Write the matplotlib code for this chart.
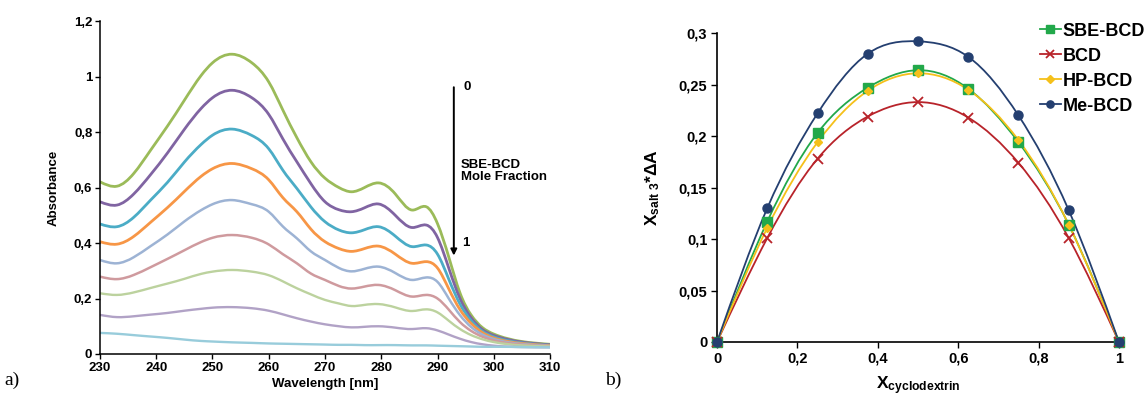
import numpy as np
import matplotlib
matplotlib.use("Agg")
import matplotlib.pyplot as plt
from matplotlib.path import Path
from matplotlib.patches import PathPatch
from matplotlib.lines import Line2D

plt.rcParams['font.family'] = ['Liberation Sans', 'DejaVu Sans']
plt.rcParams['font.weight'] = 'bold'
plt.rcParams['mathtext.fontset'] = 'custom'
plt.rcParams['mathtext.rm'] = 'Liberation Sans:bold'
plt.rcParams['mathtext.bf'] = 'Liberation Sans:bold'
plt.rcParams['mathtext.it'] = 'Liberation Sans:bold'

# ---- panel a: UV spectra (SBE-BCD mole fraction 0 -> 1, top to bottom) ----
wavelength = [230, 233, 236, 239, 242, 245, 248, 250, 253.5, 257, 260, 262.5, 265, 267.5,
              270, 272.5, 274.7, 277, 279.5, 282.5, 285.5, 288,
              290, 292, 294, 296, 298, 300, 305, 310]
spectra = [
    [0.621, 0.605, 0.651, 0.735, 0.822, 0.915, 1.005, 1.050, 1.081, 1.050, 0.981, 0.880, 0.780, 0.693,
     0.634, 0.600, 0.585, 0.600, 0.617, 0.577, 0.519, 0.531,
     0.470, 0.350, 0.220, 0.140, 0.095, 0.072, 0.045, 0.035],
    [0.549, 0.537, 0.577, 0.647, 0.725, 0.810, 0.886, 0.924, 0.951, 0.924, 0.864, 0.776, 0.693, 0.614,
     0.549, 0.520, 0.513, 0.527, 0.541, 0.500, 0.456, 0.465,
     0.420, 0.310, 0.200, 0.130, 0.088, 0.067, 0.043, 0.033],
    [0.469, 0.459, 0.493, 0.555, 0.619, 0.692, 0.756, 0.789, 0.811, 0.788, 0.740, 0.663, 0.597, 0.530,
     0.477, 0.447, 0.437, 0.448, 0.459, 0.425, 0.387, 0.393,
     0.360, 0.270, 0.180, 0.120, 0.082, 0.062, 0.040, 0.031],
    [0.405, 0.396, 0.424, 0.475, 0.528, 0.586, 0.641, 0.668, 0.687, 0.668, 0.628, 0.564, 0.513, 0.450,
     0.405, 0.380, 0.370, 0.380, 0.389, 0.360, 0.327, 0.333,
     0.310, 0.235, 0.160, 0.110, 0.077, 0.058, 0.038, 0.030],
    [0.339, 0.327, 0.349, 0.389, 0.431, 0.478, 0.519, 0.540, 0.555, 0.540, 0.513, 0.460, 0.417, 0.370,
     0.339, 0.310, 0.298, 0.307, 0.315, 0.292, 0.267, 0.276,
     0.260, 0.200, 0.140, 0.097, 0.070, 0.054, 0.036, 0.029],
    [0.279, 0.270, 0.285, 0.313, 0.343, 0.374, 0.404, 0.419, 0.429, 0.419, 0.395, 0.360, 0.327, 0.290,
     0.267, 0.245, 0.236, 0.243, 0.249, 0.230, 0.207, 0.213,
     0.200, 0.160, 0.115, 0.083, 0.062, 0.049, 0.034, 0.028],
    [0.219, 0.213, 0.222, 0.238, 0.254, 0.271, 0.289, 0.297, 0.303, 0.297, 0.284, 0.262, 0.237, 0.215,
     0.195, 0.182, 0.173, 0.177, 0.180, 0.168, 0.155, 0.161,
     0.150, 0.120, 0.090, 0.068, 0.053, 0.043, 0.031, 0.027],
    [0.141, 0.133, 0.136, 0.142, 0.148, 0.156, 0.163, 0.167, 0.169, 0.165, 0.156, 0.143, 0.129, 0.117,
     0.107, 0.100, 0.096, 0.098, 0.100, 0.095, 0.090, 0.093,
     0.085, 0.070, 0.055, 0.043, 0.035, 0.030, 0.025, 0.024],
    [0.076, 0.073, 0.068, 0.063, 0.058, 0.052, 0.047, 0.045, 0.042, 0.040, 0.038, 0.037, 0.036, 0.035,
     0.034, 0.033, 0.033, 0.032, 0.032, 0.032, 0.031, 0.031,
     0.030, 0.029, 0.028, 0.027, 0.026, 0.026, 0.025, 0.024],
]
spectra_colors = ['#9BBB59', '#8064A2', '#4BACC6', '#F79646', '#9DB3D4',
                  '#CF9A9E', '#BCD29E', '#B1A2C6', '#98CCDB']
spectra_widths = [2.0, 2.0, 2.0, 2.0, 1.8, 1.8, 1.7, 1.7, 1.7]

# ---- panel b: Job plot ----
x_frac = [0, 0.125, 0.25, 0.375, 0.5, 0.625, 0.75, 0.875, 1]
job_series = {
    'SBE-BCD': [0, 0.117, 0.203, 0.247, 0.264, 0.246, 0.194, 0.114, 0],
    'BCD': [0, 0.101, 0.178, 0.219, 0.233, 0.218, 0.174, 0.101, 0],
    'HP-BCD': [0, 0.111, 0.194, 0.244, 0.261, 0.245, 0.196, 0.114, 0],
    'Me-BCD': [0, 0.130, 0.222, 0.280, 0.292, 0.277, 0.220, 0.128, 0],
}
job_style = {
    'SBE-BCD': dict(color='#22A84A', marker='s', ms=6.5),
    'BCD': dict(color='#B8232A', marker='x', ms=7, mew=1.3),
    'HP-BCD': dict(color='#F5C01A', marker='D', ms=4.5),
    'Me-BCD': dict(color='#243F70', marker='o', ms=6.5),
}


def smooth_path(xs, ys):
    # smoothed line: natural cubic spline through the points, drawn as Bezier segments
    x = np.asarray(xs, float)
    y = np.asarray(ys, float)
    n = len(x)
    h = np.diff(x)
    A = np.zeros((n, n))
    b = np.zeros(n)
    A[0, 0] = A[-1, -1] = 1.0
    for i in range(1, n - 1):
        A[i, i - 1] = h[i - 1]
        A[i, i] = 2 * (h[i - 1] + h[i])
        A[i, i + 1] = h[i]
        b[i] = 6 * ((y[i + 1] - y[i]) / h[i] - (y[i] - y[i - 1]) / h[i - 1])
    M = np.linalg.solve(A, b)
    m = np.zeros(n)
    for i in range(n - 1):
        m[i] = (y[i + 1] - y[i]) / h[i] - h[i] * (2 * M[i] + M[i + 1]) / 6
    m[-1] = (y[-1] - y[-2]) / h[-1] + h[-1] * (M[-2] + 2 * M[-1]) / 6
    verts = [(x[0], y[0])]
    codes = [Path.MOVETO]
    for i in range(n - 1):
        verts += [(x[i] + h[i] / 3, y[i] + m[i] * h[i] / 3),
                  (x[i + 1] - h[i] / 3, y[i + 1] - m[i + 1] * h[i] / 3),
                  (x[i + 1], y[i + 1])]
        codes += [Path.CURVE4] * 3
    return Path(verts, codes)


def fmt_comma(v):
    return ('%g' % v).replace('.', ',')


fig = plt.figure(figsize=(11.48, 3.99), dpi=100)

ax1 = fig.add_axes([0.0871, 0.1128, 0.392, 0.834])
for vals, col, lw in zip(spectra, spectra_colors, spectra_widths):
    ax1.add_patch(PathPatch(smooth_path(wavelength, vals), fill=False, edgecolor=col, lw=lw))
ax1.set_xlim(230, 310)
ax1.set_ylim(0, 1.2)
ax1.set_xticks(np.arange(230, 311, 10))
ax1.set_yticks(np.arange(0, 1.21, 0.2))
ax1.set_yticklabels([fmt_comma(round(v, 1)) for v in np.arange(0, 1.21, 0.2)])
ax1.set_xlabel('Wavelength [nm]', fontsize=9.5, fontweight='bold', labelpad=3)
ax1.set_ylabel('Absorbance', fontsize=9.5, fontweight='bold', labelpad=10)
ax1.tick_params(labelsize=9.5, length=3.5, width=1, pad=2)
for sp in ['top', 'right']:
    ax1.spines[sp].set_visible(False)
for sp in ['left', 'bottom']:
    ax1.spines[sp].set_linewidth(1.1)

ax1.annotate('', xy=(292.9, 0.355), xytext=(292.9, 0.962),
             arrowprops=dict(arrowstyle='-|>', color='black', lw=1.4,
                             mutation_scale=9, shrinkA=0, shrinkB=0))
ax1.text(294.6, 0.962, '0', fontsize=9.5, fontweight='bold', va='center', ha='left')
ax1.text(294.3, 0.40, '1', fontsize=9.5, fontweight='bold', va='center', ha='left')
ax1.text(294.2, 0.66, 'SBE-BCD\nMole Fraction', fontsize=9.5, fontweight='bold',
         va='center', ha='left', linespacing=1.1)

ax2 = fig.add_axes([0.6246, 0.1429, 0.3501, 0.7741])
for name, vals in job_series.items():
    st = job_style[name]
    ax2.add_patch(PathPatch(smooth_path(x_frac, vals), fill=False, edgecolor=st['color'], lw=1.3))
    ax2.plot(x_frac, vals, ls='none', marker=st['marker'], ms=st['ms'], color=st['color'],
             mew=st.get('mew', 1), clip_on=False, zorder=3)
ax2.set_xlim(0, 1)
ax2.set_ylim(0, 0.3)
ax2.set_xticks(np.arange(0, 1.01, 0.2))
ax2.set_xticklabels([fmt_comma(round(v, 1)) for v in np.arange(0, 1.01, 0.2)])
ax2.set_yticks(np.arange(0, 0.301, 0.05))
ax2.set_yticklabels([fmt_comma(round(v, 2)) for v in np.arange(0, 0.301, 0.05)])
ax2.tick_params(labelsize=10.5, length=4, width=1, pad=3)
for sp in ['top', 'right']:
    ax2.spines[sp].set_visible(False)
for sp in ['left', 'bottom']:
    ax2.spines[sp].set_linewidth(1.2)
ax2.set_xlabel(r'X$_{\mathbf{cyclodextrin}}$', fontsize=12.5, fontweight='bold', labelpad=6)
ax2.set_ylabel(r'X$_{\mathbf{salt\ 3}}$*ΔA', fontsize=12.5, fontweight='bold', labelpad=12)

handles = [Line2D([0], [0], color=job_style[n]['color'], lw=1.3, marker=job_style[n]['marker'],
                  ms=job_style[n]['ms'] * 0.8, mew=job_style[n].get('mew', 1)) for n in job_series]
fig.legend(handles, list(job_series.keys()), loc='upper left', bbox_to_anchor=(0.906, 0.943),
           frameon=False, prop={'weight': 'bold', 'size': 13},
           handlelength=1.15, handletextpad=0.08, labelspacing=0.44, borderaxespad=0.0,
           borderpad=0.0)

fig.text(0.004, 0.035, 'a)', family='Liberation Serif', fontweight='normal', fontsize=14)
fig.text(0.527, 0.035, 'b)', family='Liberation Serif', fontweight='normal', fontsize=14)

fig.savefig('out.png', dpi=100)
